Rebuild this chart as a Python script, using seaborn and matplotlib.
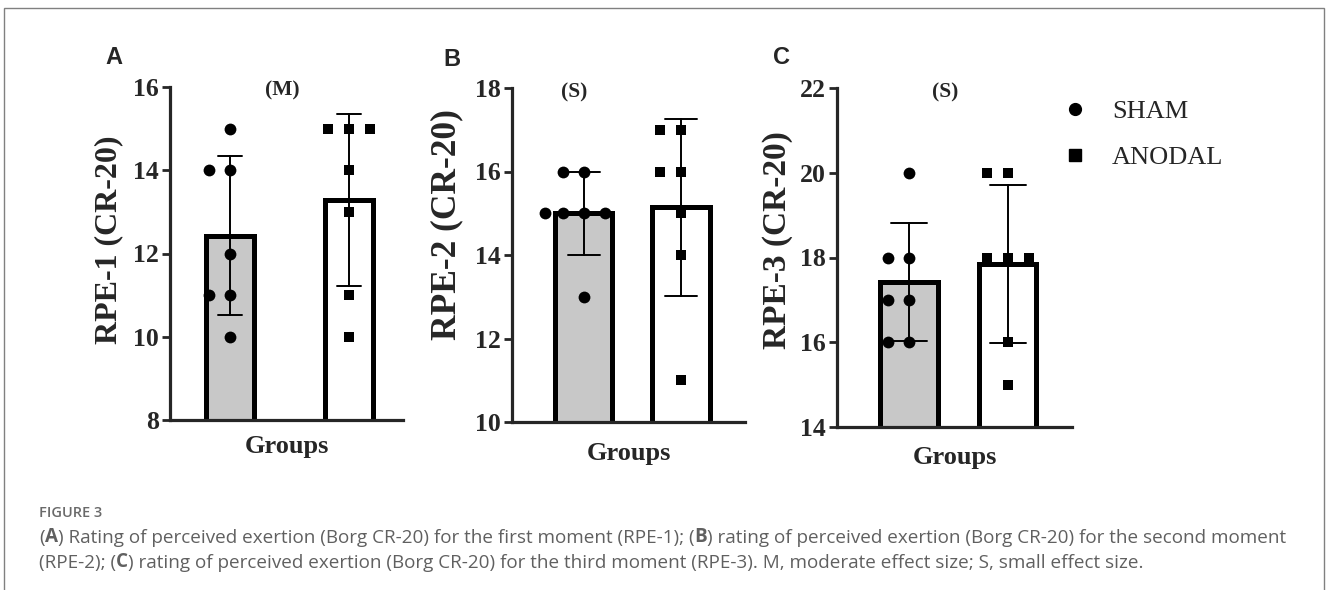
import numpy as np
import pandas as pd
import matplotlib
matplotlib.use("Agg")
import matplotlib.pyplot as plt
import seaborn as sns
from matplotlib.lines import Line2D
from matplotlib.patches import Rectangle
from matplotlib.text import Annotation

# ==========================================
# DATA
# ==========================================
groups = ["SHAM", "ANODAL"]

rpe1_sham = [15, 14, 14, 12, 11, 11, 10]
rpe1_anodal = [15, 15, 15, 14, 13, 11, 10]
rpe2_sham = [16, 16, 15, 15, 15, 15, 13]
rpe2_anodal = [17, 17, 16, 16, 15, 14, 11]
rpe3_sham = [20, 18, 18, 17, 17, 16, 16]
rpe3_anodal = [20, 20, 18, 18, 18, 16, 15]

panel_letters = ["A", "B", "C"]
y_labels = ["RPE-1 (CR-20)", "RPE-2 (CR-20)", "RPE-3 (CR-20)"]
effect_labels = ["(M)", "(S)", "(S)"]
y_limits = [(8, 16), (10, 18), (14, 22)]
y_ticks = [[8, 10, 12, 14, 16], [10, 12, 14, 16, 18], [14, 16, 18, 20, 22]]

caption_title = "FIGURE 3"


def make_df(sham, anodal):
    return pd.DataFrame({
        "group": ["SHAM"] * len(sham) + ["ANODAL"] * len(anodal),
        "value": sham + anodal,
    })


panels = [make_df(rpe1_sham, rpe1_anodal),
          make_df(rpe2_sham, rpe2_anodal),
          make_df(rpe3_sham, rpe3_anodal)]

# ==========================================
# STYLE
# ==========================================
sns.set_style("ticks")
plt.rcParams["font.family"] = ["Liberation Serif", "DejaVu Serif"]
plt.rcParams["font.weight"] = "bold"
plt.rcParams["axes.labelweight"] = "bold"

W, H = 1328, 590
fig = plt.figure(figsize=(W / 100, H / 100), dpi=100)

# axes boxes in pixels: left, right, top (y of max), bottom (y of min)
boxes = [(170, 403, 87, 420), (512, 745, 88, 422), (837, 1072, 88, 427)]
xlims = [(-0.50, 1.45), (-0.74, 1.66), (-0.73, 1.65)]
bar_widths = [0.40, 0.59, 0.58]
capsizes = [0.20, 0.33, 0.36]
ylabel_sizes = [23, 25.5, 24]
ylabel_coords = [(-0.20, 0.54), (-0.21, 0.59), (-0.187, 0.55)]
xlabel_y = [-0.045, -0.06, -0.056]
letter_pos = [(114, 57), (452, 59), (782, 58)]
effect_pos = [(282, 90), (574, 92), (945, 92)]

palette = {"SHAM": "#c8c8c8", "ANODAL": "white"}

for i, df in enumerate(panels):
    l, r, t, b = boxes[i]
    ax = fig.add_axes([l / W, 1 - b / H, (r - l) / W, (b - t) / H])

    sns.barplot(data=df, x="group", y="value", order=groups, hue="group",
                palette=palette, legend=False, errorbar="sd",
                capsize=capsizes[i], width=bar_widths[i],
                err_kws={"color": "black", "linewidth": 1.4},
                edgecolor="black", linewidth=3.6, ax=ax)

    # invisible wide edge -> wider spacing between swarm points (Prism-like)
    sns.swarmplot(data=df[df["group"] == "SHAM"], x="group", y="value",
                  order=groups, color="black", marker="o", size=8.5,
                  edgecolor=(0, 0, 0, 0), linewidth=5.9, ax=ax, zorder=4)
    sns.swarmplot(data=df[df["group"] == "ANODAL"], x="group", y="value",
                  order=groups, color="black", marker="s", size=7.5,
                  edgecolor=(0, 0, 0, 0), linewidth=6.9, ax=ax, zorder=4)

    ax.set_xlim(*xlims[i])
    ax.set_ylim(*y_limits[i])
    ax.set_yticks(y_ticks[i])
    ax.set_xticks([])
    sns.despine(ax=ax)
    for side in ["left", "bottom"]:
        ax.spines[side].set_linewidth(2.3)
    ax.tick_params(axis="y", length=6, width=2.0, pad=2, labelsize=18.5)

    ax.set_ylabel(y_labels[i], fontsize=ylabel_sizes[i], fontweight="bold")
    ax.yaxis.set_label_coords(*ylabel_coords[i])
    ax.set_xlabel("Groups", fontsize=19, fontweight="bold")
    ax.xaxis.set_label_coords(0.5, xlabel_y[i])

    lx, ly = letter_pos[i]
    fig.text(lx / W, 1 - ly / H, panel_letters[i], ha="center", va="center",
             fontsize=17, fontweight="bold", family="Liberation Sans")
    ex, ey = effect_pos[i]
    fig.text(ex / W, 1 - ey / H, effect_labels[i], ha="center", va="center",
             fontsize=15.5, fontweight="bold")

# legend
handles = [Line2D([], [], marker="o", color="black", linestyle="None", markersize=8.5),
           Line2D([], [], marker="s", color="black", linestyle="None", markersize=8)]
fig.legend(handles, groups, loc="upper left",
           bbox_to_anchor=(1062 / W, 1 - 100 / H), frameon=False,
           prop={"family": "Liberation Serif", "weight": "normal", "size": 19},
           handlelength=1.0, handletextpad=0.9, labelspacing=0.85,
           borderpad=0, borderaxespad=0)

# ==========================================
# CAPTION
# ==========================================
cap_color = "#606060"
cap_font = "Open Sans"
cap_size = 13.6

fig.text(39 / W, 1 - 517 / H, caption_title, ha="left", va="baseline",
         fontsize=10.5, color="#6a6a6a", family=cap_font, fontweight="semibold")

caption_lines = [
    [("(", "normal"), ("A", "bold"),
     (") Rating of perceived exertion (Borg CR-20) for the first moment (RPE-1); (", "normal"),
     ("B", "bold"),
     (") rating of perceived exertion (Borg CR-20) for the second moment", "normal")],
    [("(RPE-2); (", "normal"), ("C", "bold"),
     (") rating of perceived exertion (Borg CR-20) for the third moment (RPE-3). "
      "M, moderate effect size; S, small effect size.", "normal")],
]
baselines = [543, 568]
for line, base in zip(caption_lines, baselines):
    prev = None
    for txt, wt in line:
        if prev is None:
            prev = fig.text(39 / W, 1 - base / H, txt, ha="left", va="baseline",
                            fontsize=cap_size, color=cap_color, family=cap_font,
                            fontweight=wt)
        else:
            # chain each piece to the right end of the previous one
            ann = Annotation(txt, xy=(1, 0), xycoords=prev, ha="left", va="bottom",
                             fontsize=cap_size, color=cap_color, family=cap_font,
                             fontweight=wt, annotation_clip=False)
            fig.add_artist(ann)
            prev = ann

# frame around the figure
fig.add_artist(Rectangle((4 / W, -0.02), 1320 / W, 1.02 - 8 / H,
                         transform=fig.transFigure, fill=False,
                         edgecolor="#808080", linewidth=1.0))

fig.savefig("out.png", dpi=100)
